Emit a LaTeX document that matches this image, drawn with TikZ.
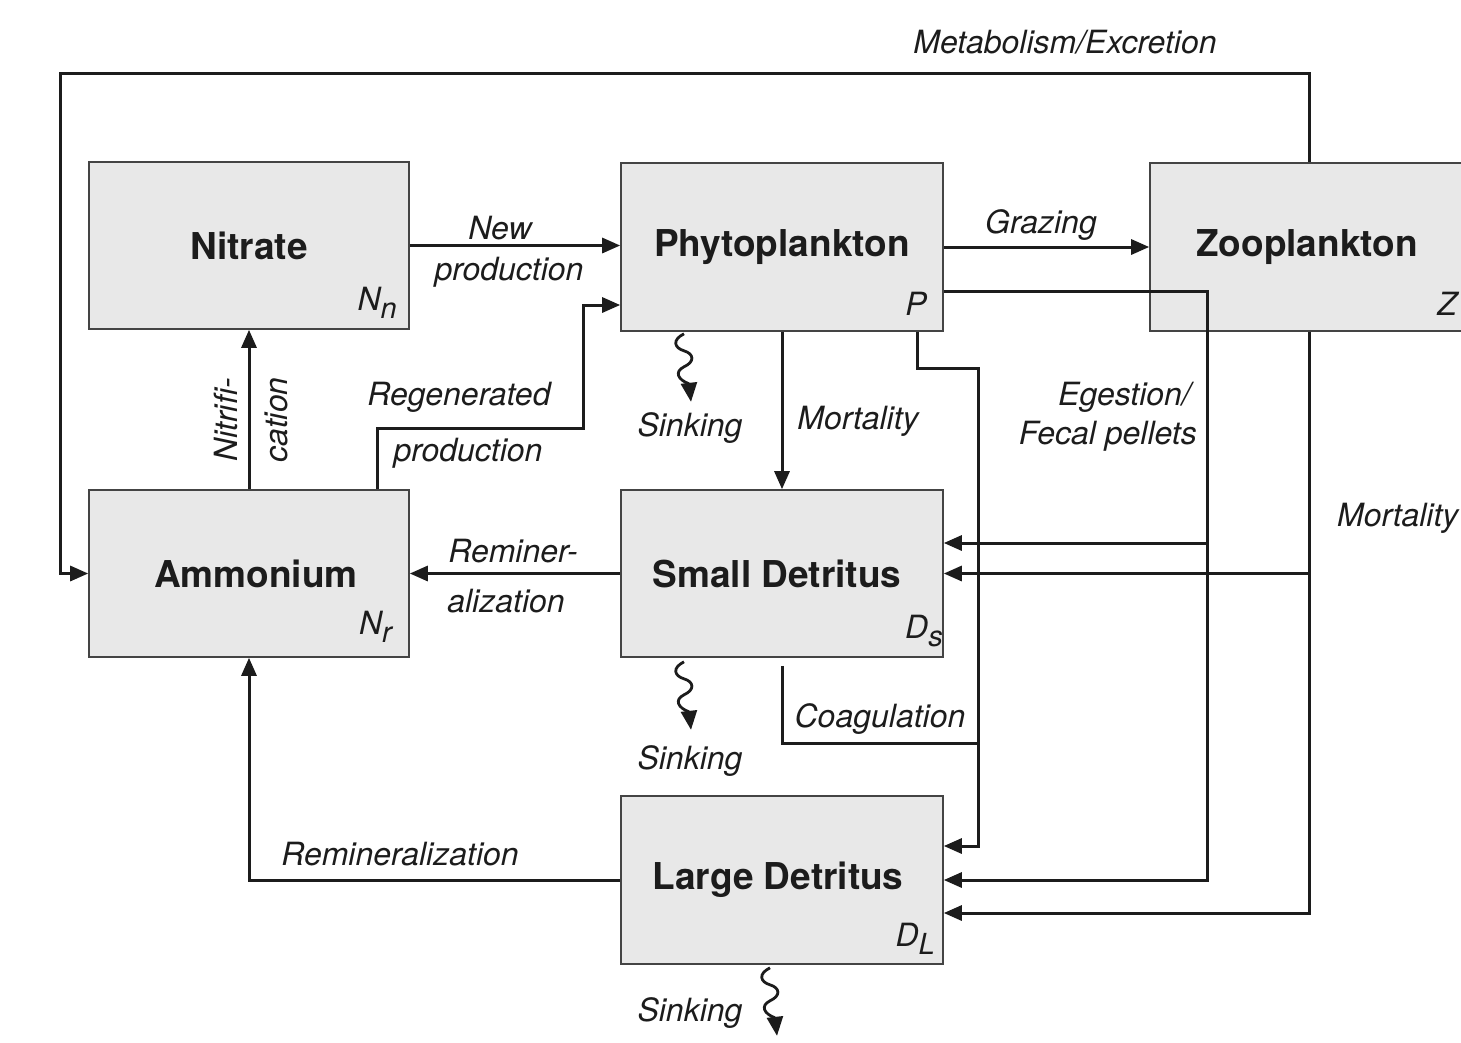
\documentclass[tikz,border=0pt]{standalone}
\usepackage{fontspec}
\setmainfont{TeX Gyre Heros}
\usetikzlibrary{arrows.meta,calc}
\definecolor{boxfill}{HTML}{E8E8E8}
\definecolor{boxline}{HTML}{444444}
\definecolor{ink}{HTML}{1C1C1C}
\newcommand{\boxfont}{\fontsize{37}{44}\selectfont\bfseries}
\newcommand{\lblfont}{\fontsize{32}{38}\selectfont\itshape}
\newcommand{\subl}[2]{#1\raisebox{-8pt}{\fontsize{29}{29}\selectfont #2}}
\newcommand{\bx}[1]{\raisebox{-3pt}{#1}}
\begin{document}
\begin{tikzpicture}[x=1pt,y=-1pt,
  box/.style={draw=boxline, line width=1.6pt, fill=boxfill, minimum width=320, minimum height=167, inner sep=0pt, font=\boxfont, text=ink},
  conn/.style={draw=ink, line width=3pt, line join=miter},
  arr/.style={conn, -{Triangle[length=18,width=15]}},
  lbl/.style={font=\lblfont, text=ink, inner sep=0pt},
  sinkpic/.pic={\draw[draw=ink, line width=2.8pt, -{Triangle[length=19,width=16]}]
    (0,0) .. controls (-12,6) and (-10,14) .. (0,17)
          .. controls (10,20) and (11,28) .. (0,33)
          .. controls (-10,38) and (-6,46) .. (5,50) -- (7,68);}]
\useasboundingbox (0,0) rectangle (1461,1042);
% boxes
\node[box] (nit) at (249,245.5) {\bx{Nitrate}};
\node[box, minimum width=322, minimum height=168] (phy) at (782,247) {\bx{Phytoplankton}};
\node[box, minimum width=322, minimum height=168] (zoo) at (1311,247) {\hspace*{-8pt}\bx{Zooplankton}};
\node[box] (amm) at (249,573.5) {\hspace*{14pt}Ammonium};
\node[box, minimum width=322] (sd) at (782,573.5) {\hspace*{-10pt}Small Detritus};
\node[box, minimum width=322, minimum height=168] (ld) at (782,880) {\hspace*{-8pt}Large Detritus};
% symbols
\node[lbl, anchor=base east] (nn) at (397,310) {\subl{N}{n}};
\node[lbl, anchor=base east] (pp) at (927,315) {P};
\node[lbl, anchor=base east] (zz) at (1457,315) {Z};
\node[lbl, anchor=base east] (nr) at (392,634) {\subl{N}{r}};
\node[lbl, anchor=base east] (dss) at (943,638) {\subl{D}{s}};
\node[lbl, anchor=base east] (dll) at (935,946) {\subl{D}{L}};
% bend points
\coordinate (metab) at (60,73);
\coordinate (regen) at (583,428);
\coordinate (egest) at (1207,543);
\coordinate (plarge) at (978,368);
\coordinate (coag) at (978,743);
% connectors
\draw[arr] (nit.east) -- (nit.east -| phy.west);
\draw[arr] ($(amm.north)+(128,0)$) |- (regen) |- ($(phy.west)+(0,58)$);
\draw[arr] (amm.north) -- (nit.south);
\draw[arr] (phy.east) -- (zoo.west);
\draw[arr] ($(zoo.north)+(-2,0)$) |- (metab) |- (amm.west);
\draw[arr] ($(phy.east)+(0,44)$) -| (egest) -- ($(sd.east)+(0,-30.5)$);
\draw[arr] (egest) |- (ld.east);
\draw[arr] ($(zoo.south)+(-2,0)$) |- ($(ld.east)+(0,33)$);
\draw[arr] ($(zoo.south)+(-2,1.5)$) |- (sd.east);
\draw[arr] (phy.south) -- (sd.north);
\draw[arr] ($(phy.south)+(135,0)$) |- (plarge) |- ($(ld.east)+(0,-34)$);
\draw[conn] ($(sd.south)+(0,8)$) |- (coag);
\draw[arr] (sd.west) -- (amm.east);
\draw[arr] (ld.west) -| (amm.south);
% sinking
\pic (sk1) at ($(phy.south)+(-98,2)$) {sinkpic};
\pic (sk2) at ($(sd.south)+(-98,4)$) {sinkpic};
\pic (sk3) at ($(ld.south)+(-12,3)$) {sinkpic};
% labels
\node[lbl] (lnew) at (500,228) {New};
\node[lbl] (lnewp) at (509,272) {production};
\node[lbl] (lgraz) at (1041,225) {Grazing};
\node[lbl] (lreg) at (459,397) {Regenerated};
\node[lbl] (lregp) at (468,453) {production};
\node[lbl, rotate=90] (lnit1) at (226,420) {Nitrifi-};
\node[lbl, rotate=90] (lnit2) at (276,420) {cation};
\node[lbl] (lsink1) at (690,428) {Sinking};
\node[lbl] (lsink2) at (690,761) {Sinking};
\node[lbl] (lsink3) at (690,1013) {Sinking};
\node[lbl] (lmort) at (858,421) {Mortality};
\node[lbl, anchor=east] (legest) at (1191,397) {Egestion/};
\node[lbl, anchor=east] (lfecal) at (1197,436) {Fecal pellets};
\node[lbl, anchor=west] (lmortz) at (1337,518) {Mortality};
\node[lbl] (lrem1) at (513,551) {Reminer-};
\node[lbl] (lrem2) at (506,601) {alization};
\node[lbl] (lcoag) at (880,719) {Coagulation};
\node[lbl] (lrem) at (400,854) {Remineralization};
\node[lbl] (lmet) at (1065,42) {Metabolism/Excretion};
\end{tikzpicture}
\end{document}
